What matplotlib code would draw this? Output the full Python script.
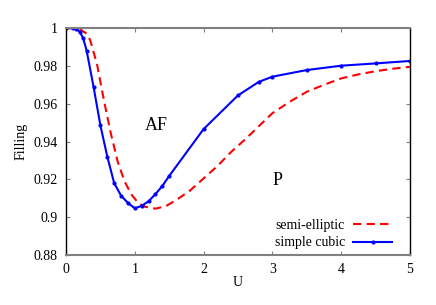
import matplotlib
matplotlib.use("Agg")
import matplotlib.pyplot as plt

plt.rcParams['font.family'] = ['Liberation Serif', 'DejaVu Serif']

# simple cubic (with markers)
u_sc = [0, 0.1, 0.15, 0.2, 0.25, 0.3, 0.4, 0.5, 0.6, 0.7, 0.8, 0.9, 1.0,
        1.1, 1.2, 1.3, 1.4, 1.5, 2.0, 2.5, 2.8, 3.0, 3.5, 4.0, 4.5, 5.0]
f_sc = [1.0, 1.0, 0.9995, 0.998, 0.9946, 0.988, 0.969, 0.9485, 0.932, 0.918,
        0.9114, 0.9075, 0.9047, 0.906, 0.9084, 0.9122, 0.9165, 0.9218,
        0.9466, 0.9644, 0.9715, 0.9743, 0.9778, 0.9801, 0.9813, 0.9826]

# semi-elliptic (dashed)
u_se = [0, 0.2, 0.3, 0.35, 0.45, 0.55, 0.65, 0.75, 0.85, 0.95, 1.05, 1.15,
        1.3, 1.45, 1.6, 1.8, 2.0, 2.2, 2.4, 2.6, 2.8, 3.0, 3.25, 3.5, 3.75,
        4.0, 4.25, 4.5, 4.75, 5.0]
f_se = [1.0, 0.9995, 0.997, 0.9937, 0.981, 0.962, 0.9445, 0.9295, 0.919,
        0.912, 0.9075, 0.9055, 0.9045, 0.9058, 0.909, 0.914, 0.9205, 0.927,
        0.9345, 0.941, 0.948, 0.955, 0.961, 0.9663, 0.970, 0.9734, 0.9755,
        0.9772, 0.9785, 0.9795]

xticks = [0, 1, 2, 3, 4, 5]
yticks = [0.88, 0.9, 0.92, 0.94, 0.96, 0.98, 1.0]
ytick_labels = ['0.88', '0.9', '0.92', '0.94', '0.96', '0.98', '1']

fig = plt.figure(figsize=(4.36, 3.05), dpi=100)
ax = fig.add_axes([0.1514, 0.164, 0.789, 0.744])

ax.plot(u_se, f_se, color='#ff0000', lw=1.5, ls=(0, (4, 2.5)), label='semi-elliptic')
ax.plot(u_sc, f_sc, color='#0000ff', lw=1.5, marker='o', ms=2, label='simple cubic')

ax.set_xlim(0, 5)
ax.set_ylim(0.88, 1.0)
ax.set_xticks(xticks)
ax.set_xticklabels([str(t) for t in xticks])
ax.set_yticks(yticks)
ax.set_yticklabels(ytick_labels)
ax.tick_params(direction='in', length=3, width=0.8, color='#808080',
               top=True, right=True, labelsize=10, pad=6)

for side in ['top', 'bottom']:
    ax.spines[side].set_color('#808080')
    ax.spines[side].set_linewidth(1.5)
for side in ['left', 'right']:
    ax.spines[side].set_color('black')
    ax.spines[side].set_linewidth(1.0)

ax.set_xlabel('U', fontsize=10, labelpad=0)
ax.set_ylabel('Filling', fontsize=10, labelpad=4)

ax.text(1.32, 0.9487, 'AF', fontsize=13, ha='center', va='center')
ax.text(3.07, 0.9196, 'P', fontsize=13, ha='center', va='center')

ax.legend(loc='lower right', bbox_to_anchor=(0.964, 0.0), borderaxespad=0,
          frameon=False, markerfirst=False, fontsize=10,
          handlelength=2.8, handletextpad=0.6, labelspacing=0.35,
          numpoints=1)

fig.savefig('out.png', dpi=100, facecolor='white')
